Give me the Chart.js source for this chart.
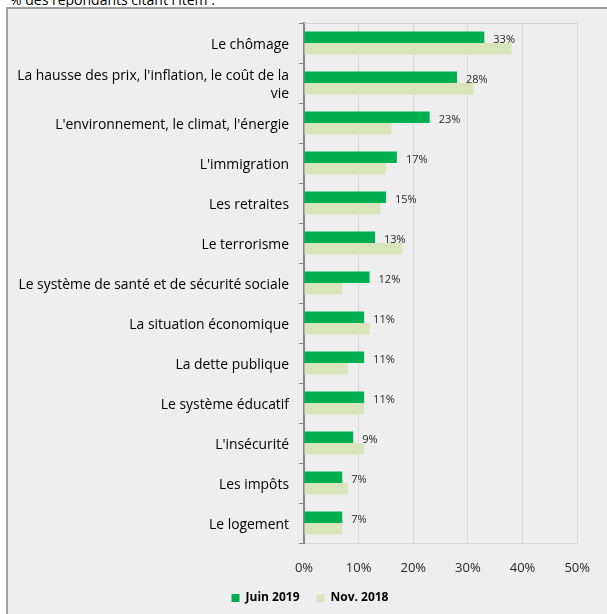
<!DOCTYPE html>
<html>
<head>
<meta charset="utf-8">
<script src="https://cdn.jsdelivr.net/npm/chart.js@4.4.1/dist/chart.umd.min.js"></script>
<style>
  body { margin: 0; background: #fff; width: 607px; height: 614px; overflow: hidden; position: relative; font-family: "Open Sans", sans-serif; }
  .caption { position: absolute; left: 10px; top: -10px; font-size: 14px; color: #000; }
  .frame { position: absolute; left: 6px; top: 7px; width: 601px; height: 607px; box-sizing: border-box;
           background: #eeeeee; border-left: 2px solid #a0a0a0; border-top: 2px solid #a0a0a0; }
  canvas { position: absolute; left: 0; top: 0; }
</style>
</head>
<body>
<div class="caption">% des répondants citant l'item :</div>
<div class="frame"></div>
<canvas id="chart" width="607" height="614"></canvas>
<script>
const categories = [
  'Le chômage',
  ["La hausse des prix, l'inflation, le coût de la", 'vie'],
  "L'environnement, le climat, l'énergie",
  "L'immigration",
  'Les retraites',
  'Le terrorisme',
  'Le système de santé et de sécurité sociale',
  'La situation économique',
  'La dette publique',
  'Le système éducatif',
  "L'insécurité",
  'Les impôts',
  'Le logement'
];
const juin2019 = [33, 28, 23, 17, 15, 13, 12, 11, 11, 11, 9, 7, 7];
const nov2018 = [38, 31, 16, 15, 14, 18, 7, 12, 8, 11, 11, 8, 7];
const xTicks = [0, 10, 20, 30, 40, 50];

const FONT = '"Open Sans"';

// top frame line of the plot area
const frameLine = {
  id: 'frameLine',
  beforeDatasetsDraw(chart) {
    const { ctx, chartArea } = chart;
    ctx.save();
    ctx.strokeStyle = '#d0d0d0';
    ctx.lineWidth = 1;
    ctx.beginPath();
    ctx.moveTo(chartArea.left, chartArea.top + 0.5);
    ctx.lineTo(chartArea.right, chartArea.top + 0.5);
    ctx.stroke();
    ctx.restore();
  }
};

// value labels on the Juin 2019 bars
const valueLabels = {
  id: 'valueLabels',
  afterDatasetsDraw(chart) {
    const { ctx } = chart;
    const meta = chart.getDatasetMeta(0);
    ctx.save();
    ctx.font = '11px ' + FONT;
    ctx.fillStyle = '#262626';
    ctx.textAlign = 'left';
    ctx.textBaseline = 'middle';
    meta.data.forEach((bar, i) => {
      ctx.fillText(juin2019[i] + '%', bar.x + 9, bar.y + 3);
    });
    ctx.restore();
  }
};

// legend sits a bit right of the canvas centre in the original
const legendShift = {
  id: 'legendShift',
  afterLayout(chart) {
    chart.legend.left += 21;
    chart.legend.right += 21;
  }
};

new Chart(document.getElementById('chart'), {
  type: 'bar',
  data: {
    labels: categories,
    datasets: [
      { label: 'Juin 2019', data: juin2019, backgroundColor: '#00b050' },
      { label: 'Nov. 2018', data: nov2018, backgroundColor: '#d8e4bc' }
    ]
  },
  options: {
    indexAxis: 'y',
    responsive: false,
    animation: false,
    devicePixelRatio: 1,
    layout: { padding: { top: 23, right: 29, left: 0, bottom: 0 } },
    datasets: { bar: { barPercentage: 1, categoryPercentage: 0.575 } },
    scales: {
      x: {
        min: 0,
        max: 50,
        afterBuildTicks: (scale) => { scale.ticks = xTicks.map(v => ({ value: v })); },
        afterFit: (scale) => { scale.height = 32; },
        ticks: {
          callback: (v) => v + '%',
          font: { family: FONT, size: 13 },
          color: '#262626',
          padding: 17
        },
        grid: { color: '#d9d9d9', drawTicks: false },
        border: { color: '#d9d9d9' }
      },
      y: {
        afterFit: (scale) => { scale.width = 304; },
        ticks: {
          font: { family: FONT, size: 13.9, lineHeight: 1.3 },
          color: '#000',
          padding: 10,
          labelOffset: 2
        },
        grid: { offset: true, drawOnChartArea: false, tickLength: 5, color: '#868686' },
        border: { color: '#868686', width: 2 }
      }
    },
    plugins: {
      legend: {
        position: 'bottom',
        labels: {
          boxWidth: 8,
          boxHeight: 8,
          padding: 17,
          color: '#000',
          font: { family: FONT, size: 12, weight: 'bold' }
        }
      },
      tooltip: { enabled: false }
    }
  },
  plugins: [frameLine, valueLabels, legendShift]
});
</script>
</body>
</html>
